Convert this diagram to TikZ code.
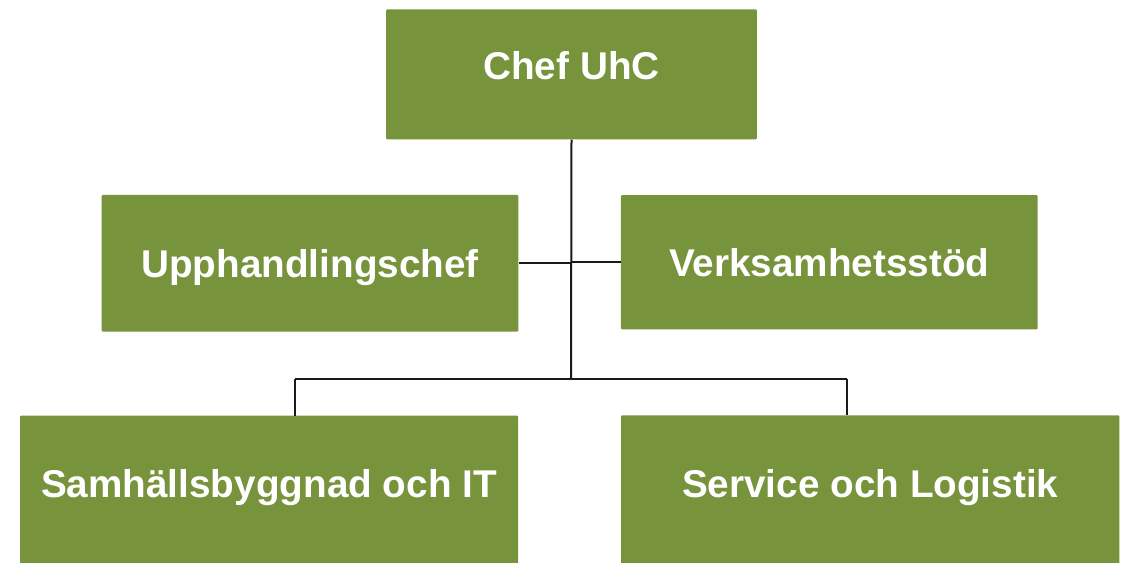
\documentclass[tikz,border=0pt]{standalone}
\usepackage{fontspec}
\setmainfont{Liberation Sans}
\definecolor{olive}{HTML}{77933C}
\definecolor{wire}{HTML}{1A1A1A}
\tikzset{
  orgbox/.style={fill=olive, draw=none, rounded corners=1pt, inner sep=0pt,
    text=white, font=\fontsize{38.7}{40}\selectfont\bfseries,
    text height=27.7pt, text depth=0pt},
  link/.style={draw=wire, line width=2pt}
}
\begin{document}
\begin{tikzpicture}[x=1pt, y=-1pt]
  \useasboundingbox (0,0) rectangle (1132,562);
  \begin{scope}
    \clip (0,0) rectangle (1132,562);
    % head of unit
    \node[orgbox, minimum width=370.6pt, minimum height=130pt] (chef) at (571.5,74.3)
      {\raisebox{8.8pt}{Chef UhC}};
    % staff functions
    \node[orgbox, minimum width=416.6pt, minimum height=136.7pt] (upp) at (310,263.3)
      {Upphandlingschef};
    \node[orgbox, minimum width=416.7pt, minimum height=134.3pt] (verk) at (829.3,262.2)
      {Verksamhetsstöd};
    % line departments (boxes continue below the page edge)
    \node[orgbox, minimum width=498pt, minimum height=194pt] (sam) at (269,512.7)
      {\raisebox{28.7pt}{Samhällsbyggnad och IT}};
    \node[orgbox, minimum width=498.3pt, minimum height=195pt] (serv) at (870.2,512.8)
      {\raisebox{28.8pt}{Service och Logistik}};
  \end{scope}
  % connectors
  \coordinate (bus) at (571,379);
  \coordinate (samdrop) at (295,379);
  \coordinate (servdrop) at (847,379);
  \draw[link] (chef.south) -- (bus);
  \draw[link] (upp.east) -- (upp.east -| bus);
  \draw[link] (verk.west -| bus) -- (verk.west);
  \draw[link] (samdrop) -- (servdrop);
  \draw[link] (samdrop) -- (samdrop |- sam.north);
  \draw[link] (servdrop) -- (servdrop |- serv.north);
\end{tikzpicture}
\end{document}
